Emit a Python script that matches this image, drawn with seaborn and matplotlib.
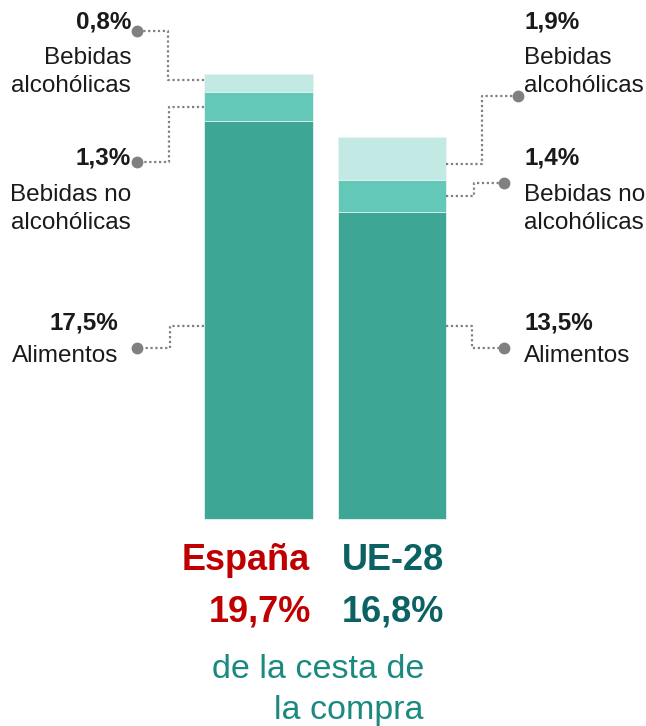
import matplotlib
matplotlib.use("Agg")
import matplotlib.pyplot as plt
import seaborn as sns
import numpy as np
import pandas as pd

# ---- data ----
regions = ["España", "UE-28"]
alimentos = [17.5, 13.5]
bebidas_no_alc = [1.3, 1.4]
bebidas_alc = [0.8, 1.9]
totals = ["19,7%", "16,8%"]
seg_labels = ["Alimentos", "Bebidas no\nalcohólicas", "Bebidas\nalcohólicas"]
pct_labels = [["17,5%", "1,3%", "0,8%"], ["13,5%", "1,4%", "1,9%"]]

c_dark = "#3da695"
c_mid = "#63c8b7"
c_light = "#c2e9e3"

sns.set_theme(style="white")
plt.rcParams["font.family"] = ["Liberation Sans", "DejaVu Sans"]

W, H = 646, 726
fig = plt.figure(figsize=(W / 100, H / 100), dpi=100)
ax = fig.add_axes([0, 0, 1, 1])

a = np.array(alimentos)
b = np.array(bebidas_no_alc)
c = np.array(bebidas_alc)
df = pd.DataFrame({"region": regions, "top": a + b + c, "mid": a + b, "low": a})

bw = 0.816
for col, color in [("top", c_light), ("mid", c_mid), ("low", c_dark)]:
    sns.barplot(data=df, x="region", y=col, color=color, width=bw, ax=ax,
                edgecolor="#e8f6f3", linewidth=0.6, saturation=1)

# axis scaling so that bars land as in the reference
px_per_cat = 133.5
cx0 = 258.5
ax.set_xlim((0 - cx0) / px_per_cat, (W - cx0) / px_per_cat)
ppu = 22.72
base = 519
ax.set_ylim(-(H - base) / ppu, base / ppu)
ax.axis("off")

def P(x, y):
    return (x / W, 1 - y / H)

grey = "#808080"
txtc = "#1a1a1a"

def connector(pts, dot):
    xs = [p[0] / W for p in pts]
    ys = [1 - p[1] / H for p in pts]
    ax.plot(xs, ys, transform=ax.transAxes, color=grey, lw=1.6,
            linestyle=(0, (1, 1.2)), solid_capstyle="butt", clip_on=False)
    ax.plot([dot[0] / W], [1 - dot[1] / H], "o", transform=ax.transAxes,
            color=grey, markersize=7.5, clip_on=False)

# left (España) connectors
connector([(204, 80), (168, 80), (168, 31), (140, 31)], (137, 31))
connector([(204, 107), (169, 107), (169, 162), (140, 162)], (137, 162))
connector([(204, 326), (170, 326), (170, 348), (140, 348)], (137, 348))
# right (UE-28) connectors
connector([(446, 164), (482, 164), (482, 96), (516, 96)], (518, 96))
connector([(446, 196), (474, 196), (474, 183), (502, 183)], (504, 183))
connector([(446, 326), (472, 326), (472, 348), (502, 348)], (504, 348))

fs = 17.5
ls = 1.4
# left labels
left_pos = [(118, 323, 356), (131, 158, 209), (131, 22, 72)]
for (xr, yp, yl), pct, lab in zip(left_pos, pct_labels[0], seg_labels):
    ax.text(*P(xr, yp), pct, transform=ax.transAxes, ha="right", va="center",
            fontsize=fs, fontweight="bold", color=txtc)
    ax.text(*P(xr, yl), lab, transform=ax.transAxes, ha="right", va="center",
            fontsize=fs, color=txtc, linespacing=ls, multialignment="right")
# right labels
right_pos = [(524, 323, 356), (524, 158, 209), (524, 22, 72)]
for (xl, yp, yl), pct, lab in zip(right_pos, pct_labels[1], seg_labels):
    ax.text(*P(xl, yp), pct, transform=ax.transAxes, ha="left", va="center",
            fontsize=fs, fontweight="bold", color=txtc)
    ax.text(*P(xl, yl), lab, transform=ax.transAxes, ha="left", va="center",
            fontsize=fs, color=txtc, linespacing=ls)

red = "#c00000"
dteal = "#0b6163"
ax.text(*P(310, 560), regions[0], transform=ax.transAxes, ha="right", va="center",
        fontsize=26, fontweight="bold", color=red)
ax.text(*P(311, 612), totals[0], transform=ax.transAxes, ha="right", va="center",
        fontsize=26, fontweight="bold", color=red)
ax.text(*P(342, 560), regions[1], transform=ax.transAxes, ha="left", va="center",
        fontsize=26, fontweight="bold", color=dteal)
ax.text(*P(342, 612), totals[1], transform=ax.transAxes, ha="left", va="center",
        fontsize=26, fontweight="bold", color=dteal)
ax.text(*P(424, 670), "de la cesta de", transform=ax.transAxes, ha="right", va="center",
        fontsize=24.5, color="#1a8a80")
ax.text(*P(424, 711), "la compra", transform=ax.transAxes, ha="right", va="center",
        fontsize=24.5, color="#1a8a80")

fig.savefig("out.png", dpi=100, facecolor="white")
